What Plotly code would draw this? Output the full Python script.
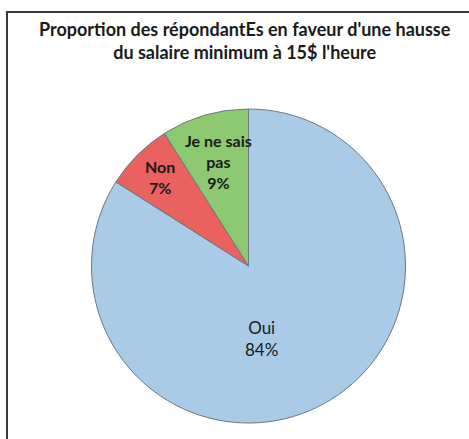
import math
import plotly.graph_objects as go

W, H = 469, 439

labels = ["Oui", "Non", "Je ne sais<br>pas"]
values = [84, 7, 9]
colors = ["#A9CBE8", "#E9625F", "#8DC970"]
title_lines = ["Proportion des répondantEs en faveur d'une hausse",
               "du salaire minimum à 15$ l'heure"]

# label styling: radial fraction, angle override (None = slice mid-angle), bold, size
label_r = [0.47, 0.80, 0.69]
label_ang = [170, None, None]
label_bold = [False, True, True]
label_size = [17, 16, 16]

# pie geometry (pixels)
cx, cy, r = 248.5, 266, 157

fig = go.Figure(go.Pie(
    labels=labels,
    values=values,
    textinfo="none",
    sort=False,
    direction="clockwise",
    rotation=0,
    marker=dict(colors=colors, line=dict(color="#6E7680", width=1)),
    showlegend=False,
    hoverinfo="label+percent",
    domain=dict(x=[(cx - r) / W, (cx + r) / W],
                y=[1 - (cy + r) / H, 1 - (cy - r) / H]),
))

total = sum(values)
annotations = []
cum = 0
for i, (lab, v) in enumerate(zip(labels, values)):
    mid = (cum + v / 2) / total * 360
    cum += v
    ang = label_ang[i] if label_ang[i] is not None else mid
    d = label_r[i] * r
    px = cx + d * math.sin(math.radians(ang))
    py = cy - d * math.cos(math.radians(ang))
    txt = f"{lab}<br>{v}%"
    if label_bold[i]:
        txt = f"<b>{txt}</b>"
    annotations.append(dict(
        text=txt, x=px / W, y=1 - py / H, xref="paper", yref="paper",
        xanchor="center", yanchor="middle", showarrow=False, align="center",
        font=dict(family="Lato", size=label_size[i], color="#1A1A1A")))

annotations.append(dict(
    text="<b>" + "<br>".join(title_lines) + "</b>",
    x=245 / W, y=1 - 16 / H, xref="paper", yref="paper",
    xanchor="center", yanchor="top", showarrow=False, align="center",
    font=dict(family="Lato", size=18, color="#1A1A1A")))

fig.update_layout(
    width=W, height=H,
    margin=dict(l=0, r=0, t=0, b=0),
    paper_bgcolor="white",
    plot_bgcolor="white",
    annotations=annotations,
    shapes=[dict(type="rect", xref="paper", yref="paper",
                 x0=7 / W, x1=1.05, y0=-0.05, y1=1 - 12 / H,
                 line=dict(color="#3A3A3A", width=2))],
)

fig.write_html("out.html", config={"displayModeBar": False},
               post_script="document.body.style.margin='0';")
